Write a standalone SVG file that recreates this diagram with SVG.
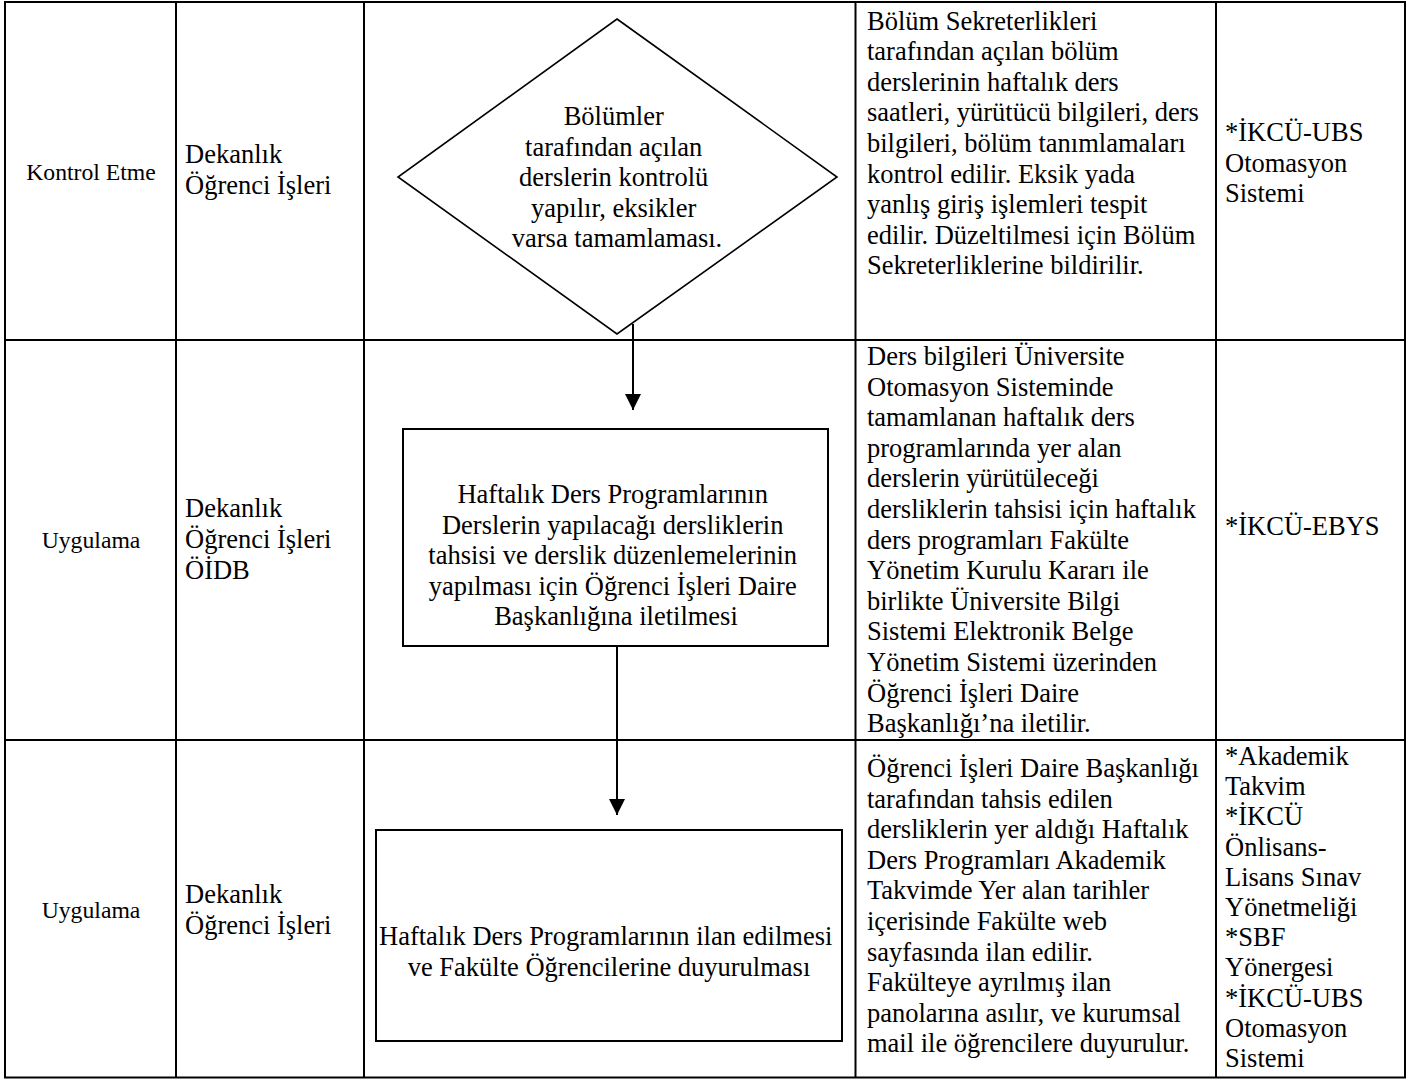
<svg xmlns="http://www.w3.org/2000/svg" width="1418" height="1079" viewBox="0 0 1418 1079">
<style>
  .grid { stroke: #000; stroke-width: 2; fill: none; }
  .shape { stroke: #000; stroke-width: 2; fill: #fff; }
  .t { font-family: "Liberation Serif", "Times New Roman", serif; font-size: 26.5px; fill: #000; }
  .s { font-family: "Liberation Serif", "Times New Roman", serif; font-size: 23.7px; fill: #000; }
  .c { text-anchor: middle; }
  .conn { stroke: #000; stroke-width: 2; fill: none; }
</style>
<defs>
  <marker id="arrow" viewBox="0 0 16 16" refX="16" refY="8" markerWidth="16" markerHeight="16" markerUnits="userSpaceOnUse" orient="auto">
    <path d="M0,0 L16,8 L0,16 Z" fill="#000"/>
  </marker>
</defs>
<rect x="0" y="0" width="1418" height="1079" fill="#fff"/>

<g id="table">
  <rect class="grid" x="5" y="2" width="1400" height="1075.5"/>
  <line class="grid" x1="176" y1="2" x2="176" y2="1077.5"/>
  <line class="grid" x1="364" y1="2" x2="364" y2="1077.5"/>
  <line class="grid" x1="855.5" y1="2" x2="855.5" y2="1077.5"/>
  <line class="grid" x1="1216" y1="2" x2="1216" y2="1077.5"/>
  <line class="grid" x1="5" y1="340" x2="1405" y2="340"/>
  <line class="grid" x1="5" y1="740" x2="1405" y2="740"/>
</g>

<g id="row1-cells">
  <text class="s c" x="91" y="180">Kontrol Etme</text>
  <text class="t" x="185" y="163"><tspan x="185">Dekanlık</tspan><tspan x="185" y="194">Öğrenci İşleri</tspan></text>
  <text class="t" x="867" y="29.5">
    <tspan x="867" y="29.5">Bölüm Sekreterlikleri</tspan>
    <tspan x="867" y="60.1">tarafından açılan bölüm</tspan>
    <tspan x="867" y="90.7">derslerinin haftalık ders</tspan>
    <tspan x="867" y="121.3">saatleri, yürütücü bilgileri, ders</tspan>
    <tspan x="867" y="151.9">bilgileri, bölüm tanımlamaları</tspan>
    <tspan x="867" y="182.5">kontrol edilir. Eksik yada</tspan>
    <tspan x="867" y="213.1">yanlış giriş işlemleri tespit</tspan>
    <tspan x="867" y="243.7">edilir. Düzeltilmesi için Bölüm</tspan>
    <tspan x="867" y="274.3">Sekreterliklerine bildirilir.</tspan>
  </text>
  <text class="t" x="1225" y="141">
    <tspan x="1225" y="141">*İKCÜ-UBS</tspan>
    <tspan x="1225" y="171.6">Otomasyon</tspan>
    <tspan x="1225" y="202.2">Sistemi</tspan>
  </text>
</g>

<g id="row2-cells">
  <text class="s c" x="91" y="548">Uygulama</text>
  <text class="t" x="185" y="517">
    <tspan x="185" y="517">Dekanlık</tspan>
    <tspan x="185" y="548">Öğrenci İşleri</tspan>
    <tspan x="185" y="579">ÖİDB</tspan>
  </text>
  <text class="t" x="867" y="365">
    <tspan x="867" y="365">Ders bilgileri Üniversite</tspan>
    <tspan x="867" y="395.6">Otomasyon Sisteminde</tspan>
    <tspan x="867" y="426.2">tamamlanan haftalık ders</tspan>
    <tspan x="867" y="456.8">programlarında yer alan</tspan>
    <tspan x="867" y="487.4">derslerin yürütüleceği</tspan>
    <tspan x="867" y="518">dersliklerin tahsisi için haftalık</tspan>
    <tspan x="867" y="548.6">ders programları Fakülte</tspan>
    <tspan x="867" y="579.2">Yönetim Kurulu Kararı ile</tspan>
    <tspan x="867" y="609.8">birlikte Üniversite Bilgi</tspan>
    <tspan x="867" y="640.4">Sistemi Elektronik Belge</tspan>
    <tspan x="867" y="671">Yönetim Sistemi üzerinden</tspan>
    <tspan x="867" y="701.6">Öğrenci İşleri Daire</tspan>
    <tspan x="867" y="732.2">Başkanlığı’na iletilir.</tspan>
  </text>
  <text class="t" x="1225" y="535">*İKCÜ-EBYS</text>
</g>

<g id="row3-cells">
  <text class="s c" x="91" y="918">Uygulama</text>
  <text class="t" x="185" y="903">
    <tspan x="185" y="903">Dekanlık</tspan>
    <tspan x="185" y="933.6">Öğrenci İşleri</tspan>
  </text>
  <text class="t" x="867" y="777">
    <tspan x="867" y="777">Öğrenci İşleri Daire Başkanlığı</tspan>
    <tspan x="867" y="807.6">tarafından tahsis edilen</tspan>
    <tspan x="867" y="838.2">dersliklerin yer aldığı Haftalık</tspan>
    <tspan x="867" y="868.8">Ders Programları Akademik</tspan>
    <tspan x="867" y="899.4">Takvimde Yer alan tarihler</tspan>
    <tspan x="867" y="930">içerisinde Fakülte web</tspan>
    <tspan x="867" y="960.6">sayfasında ilan edilir.</tspan>
    <tspan x="867" y="991.2">Fakülteye ayrılmış ilan</tspan>
    <tspan x="867" y="1021.8">panolarına asılır, ve kurumsal</tspan>
    <tspan x="867" y="1052.4">mail ile öğrencilere duyurulur.</tspan>
  </text>
  <text class="t" x="1225" y="765">
    <tspan x="1225" y="765">*Akademik</tspan>
    <tspan x="1225" y="795.2">Takvim</tspan>
    <tspan x="1225" y="825.4">*İKCÜ</tspan>
    <tspan x="1225" y="855.6">Önlisans-</tspan>
    <tspan x="1225" y="885.8">Lisans Sınav</tspan>
    <tspan x="1225" y="916">Yönetmeliği</tspan>
    <tspan x="1225" y="946.2">*SBF</tspan>
    <tspan x="1225" y="976.4">Yönergesi</tspan>
    <tspan x="1225" y="1006.6">*İKCÜ-UBS</tspan>
    <tspan x="1225" y="1036.8">Otomasyon</tspan>
    <tspan x="1225" y="1067">Sistemi</tspan>
  </text>
</g>

<g id="node-decision">
  <polygon class="shape" points="617,19 837,177 617,334 398,177" style="stroke-width:1.6"/>
  <text class="t c" x="617" y="125">
    <tspan x="617" y="125">Bölümler</tspan>
    <tspan x="617" y="155.6">tarafından açılan</tspan>
    <tspan x="617" y="186.2">derslerin kontrolü</tspan>
    <tspan x="617" y="216.8">yapılır, eksikler</tspan>
    <tspan x="617" y="247.4">varsa tamamlaması.</tspan>
  </text>
</g>

<g id="node-process1">
  <rect class="shape" x="403" y="429" width="425" height="217"/>
  <text class="t c" x="616" y="503">
    <tspan x="616" y="503">Haftalık Ders Programlarının</tspan>
    <tspan x="616" y="533.6">Derslerin yapılacağı dersliklerin</tspan>
    <tspan x="616" y="564.2">tahsisi ve derslik düzenlemelerinin</tspan>
    <tspan x="616" y="594.8">yapılması için Öğrenci İşleri Daire</tspan>
    <tspan x="616" y="625.4">Başkanlığına iletilmesi</tspan>
  </text>
</g>

<g id="node-process2">
  <rect class="shape" x="376" y="830" width="466" height="211"/>
  <text class="t c" x="609" y="945">
    <tspan x="609" y="945">Haftalık Ders Programlarının ilan edilmesi</tspan>
    <tspan x="609" y="975.6">ve Fakülte Öğrencilerine duyurulması</tspan>
  </text>
</g>

<g id="connectors">
  <line class="conn" x1="633" y1="324" x2="633" y2="410" marker-end="url(#arrow)"/>
  <line class="conn" x1="617" y1="647" x2="617" y2="815" marker-end="url(#arrow)"/>
</g>
</svg>
